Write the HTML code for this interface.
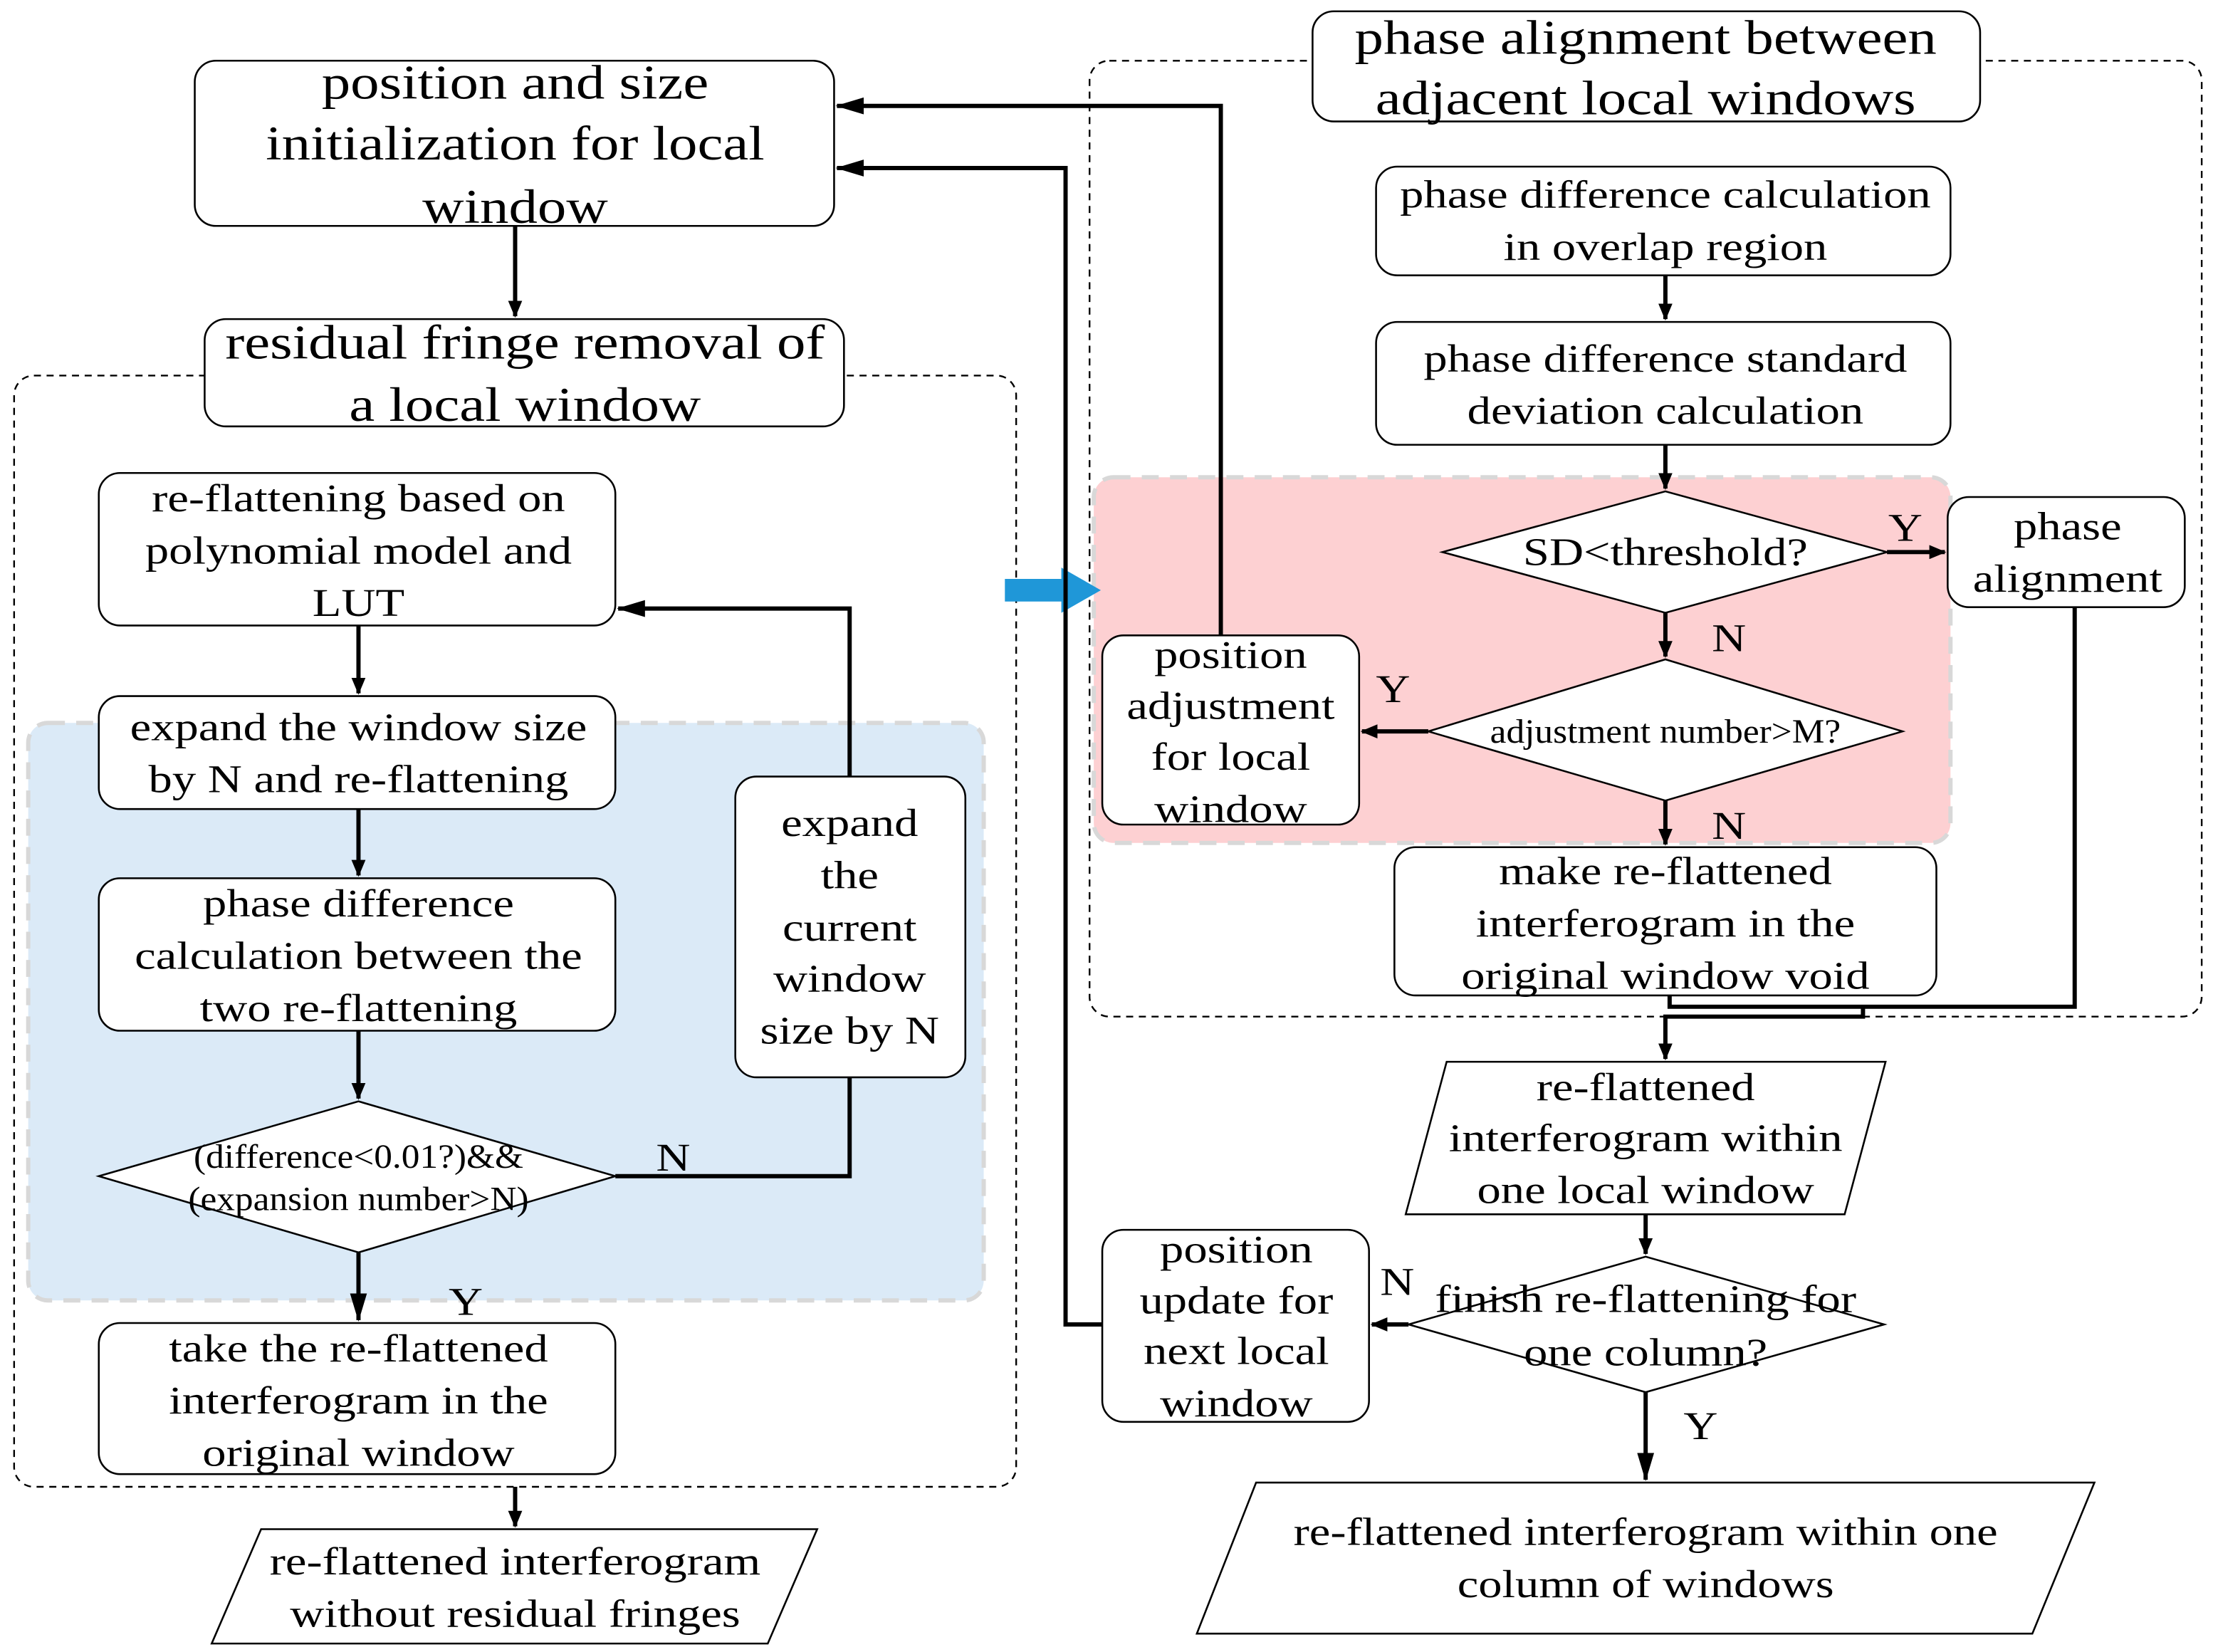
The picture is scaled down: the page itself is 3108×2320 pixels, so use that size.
<!DOCTYPE html>
<html><head><meta charset="utf-8"><style>html,body{margin:0;padding:0;background:#fff}svg{display:block}
text{transform-box:fill-box;transform-origin:center;transform:scaleX(1.2)}
.d text{transform:scaleX(1.08)}</style></head><body>
<svg width="3108" height="2320" viewBox="0 0 1568 1170" preserveAspectRatio="none" xmlns="http://www.w3.org/2000/svg" font-family="Liberation Serif, serif">
<defs><marker id="a" markerWidth="12" markerHeight="10" refX="11" refY="5" orient="auto" markerUnits="userSpaceOnUse"><path d="M0,0 L12,5 L0,10 z" fill="#000"/></marker>
<marker id="b" markerWidth="20" markerHeight="12" refX="19" refY="6" orient="auto" markerUnits="userSpaceOnUse"><path d="M0,0 L20,6 L0,12 z" fill="#000"/></marker></defs>
<g fill="none" stroke="#000" stroke-width="1.2">
<rect x="10" y="266" width="710" height="787" rx="14" stroke-dasharray="5,4"/>
<rect x="772" y="43" width="788" height="677" rx="14" stroke-dasharray="5,4"/>
</g>
<rect x="20" y="512" width="677" height="409" rx="14" fill="#dbeaf7" stroke="#d8d8d8" stroke-width="3" stroke-dasharray="12,8"/>
<rect x="775" y="338" width="607" height="259" rx="14" fill="#fdd0d2" stroke="#d8d8d8" stroke-width="3" stroke-dasharray="12,8"/>
<path d="M712,410 h40 v-8 l28,16 l-28,16 v-8 h-40z" fill="#1f97d8"/>
<g fill="#fff" stroke="#000" stroke-width="1.3">
<rect x="138" y="43" width="453" height="117" rx="15"/>
<rect x="145" y="226" width="453" height="76" rx="15"/>
<rect x="70" y="335" width="366" height="108" rx="15"/>
<rect x="70" y="493" width="366" height="80" rx="15"/>
<rect x="70" y="622" width="366" height="108" rx="15"/>
<polygon points="70,833 254,780 436,833 254,887"/>
<rect x="70" y="937" width="366" height="107" rx="15"/>
<rect x="521" y="550" width="163" height="213" rx="15"/>
<polygon points="185,1083 579,1083 544,1164 150,1164"/>
<rect x="930" y="8" width="473" height="78" rx="15"/>
<rect x="975" y="118" width="407" height="77" rx="15"/>
<rect x="975" y="228" width="407" height="87" rx="15"/>
<polygon points="1022,391 1180,348 1337,391 1180,434"/>
<rect x="1380" y="352" width="168" height="78" rx="15"/>
<polygon points="1012,518 1180,467 1348,518 1180,567"/>
<rect x="781" y="450" width="182" height="134" rx="15"/>
<rect x="988" y="600" width="384" height="105" rx="15"/>
<polygon points="1025,752 1336,752 1307,860 996,860"/>
<polygon points="998,938 1166,890 1335,938 1166,986"/>
<rect x="781" y="871" width="189" height="136" rx="15"/>
<polygon points="890,1050 1484,1050 1440,1157 848,1157"/>
</g>
<g fill="none" stroke="#000" stroke-width="3">
<path d="M365,160 V224" marker-end="url(#a)"/>
<path d="M254,443 V491" marker-end="url(#a)"/>
<path d="M254,573 V620" marker-end="url(#a)"/>
<path d="M254,730 V778" marker-end="url(#a)"/>
<path d="M254,887 V935" marker-end="url(#b)"/>
<path d="M436,833 H602 V763"/>
<path d="M602,550 V431 H438" marker-end="url(#b)"/>
<path d="M365,1053 V1081" marker-end="url(#a)"/>
<path d="M1180,195 V226" marker-end="url(#a)"/>
<path d="M1180,315 V346" marker-end="url(#a)"/>
<path d="M1337,391 H1378" marker-end="url(#a)"/>
<path d="M1180,434 V465" marker-end="url(#a)"/>
<path d="M1012,518 H965" marker-end="url(#a)"/>
<path d="M1180,567 V598" marker-end="url(#a)"/>
<path d="M865,450 V75 H593" marker-end="url(#b)"/>
<path d="M1470,430 V713 H1183 V705"/>
<path d="M1320,713 V720 H1180 V750" marker-end="url(#a)"/>
<path d="M1166,860 V888" marker-end="url(#a)"/>
<path d="M998,938 H972" marker-end="url(#a)"/>
<path d="M781,938 H755 V119 H593" marker-end="url(#b)"/>
<path d="M1166,986 V1048" marker-end="url(#b)"/>
</g>
<g font-size="34" text-anchor="middle" dominant-baseline="central" fill="#000">
<text x="365" y="59">position and size</text><text x="365" y="102">initialization for local</text><text x="365" y="147">window</text>
<text x="372" y="243">residual fringe removal of</text><text x="372" y="287">a local window</text>
<text x="1166" y="27">phase alignment between</text><text x="1166" y="70">adjacent local windows</text>
</g>
<g font-size="28" text-anchor="middle" dominant-baseline="central" fill="#000">
<text x="254" y="353">re-flattening based on</text><text x="254" y="390">polynomial model and</text><text x="254" y="427">LUT</text>
<text x="254" y="515">expand the window size</text><text x="254" y="552">by N and re-flattening</text>
<text x="254" y="640">phase difference</text><text x="254" y="677">calculation between the</text><text x="254" y="714">two re-flattening</text>
<text x="254" y="955">take the re-flattened</text><text x="254" y="992">interferogram in the</text><text x="254" y="1029">original window</text>
<text x="602" y="583">expand</text><text x="602" y="620">the</text><text x="602" y="657">current</text><text x="602" y="693">window</text><text x="602" y="730">size by N</text>
<text x="365" y="1106">re-flattened interferogram</text><text x="365" y="1143">without residual fringes</text>
<text x="1180" y="138">phase difference calculation</text><text x="1180" y="175">in overlap region</text>
<text x="1180" y="254">phase difference standard</text><text x="1180" y="291">deviation calculation</text>
<text x="1180" y="391">SD&lt;threshold?</text>
<text x="1465" y="373">phase</text><text x="1465" y="410">alignment</text>
<text x="872" y="464">position</text><text x="872" y="500">adjustment</text><text x="872" y="536">for local</text><text x="872" y="573">window</text>
<text x="1180" y="617">make re-flattened</text><text x="1180" y="654">interferogram in the</text><text x="1180" y="691">original window void</text>
<text x="1166" y="770">re-flattened</text><text x="1166" y="806">interferogram within</text><text x="1166" y="843">one local window</text>
<text x="1166" y="920">finish re-flattening for</text><text x="1166" y="958">one column?</text>
<text x="876" y="885">position</text><text x="876" y="921">update for</text><text x="876" y="957">next local</text><text x="876" y="994">window</text>
<text x="1166" y="1085">re-flattened interferogram within one</text><text x="1166" y="1122">column of windows</text>
<text x="477" y="820">N</text><text x="330" y="922">Y</text>
<text x="1350" y="374">Y</text><text x="1225" y="452">N</text><text x="987" y="488">Y</text><text x="1225" y="585">N</text>
<text x="990" y="908">N</text><text x="1205" y="1010">Y</text>
</g>
<g class="d" font-size="24" text-anchor="middle" dominant-baseline="central" fill="#000">
<text x="254" y="819">(difference&lt;0.01?)&amp;&amp;</text><text x="254" y="849">(expansion number&gt;N)</text>
<text x="1180" y="518">adjustment number&gt;M?</text>
</g>
</svg>
</body></html>
